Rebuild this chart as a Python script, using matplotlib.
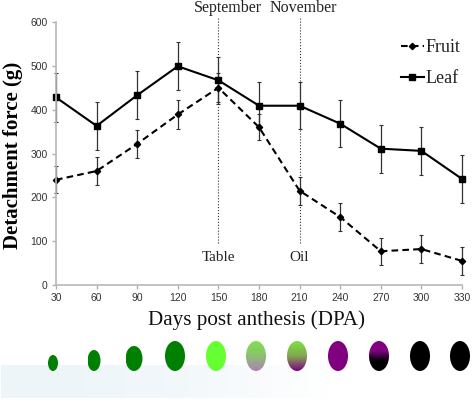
import numpy as np
import matplotlib
matplotlib.use('Agg')
import matplotlib.pyplot as plt
from matplotlib.colors import LinearSegmentedColormap
from matplotlib.patches import Ellipse

W, H = 472, 400

dpa = [30, 60, 90, 120, 150, 180, 210, 240, 270, 300, 330]
fruit = [240, 260, 322, 389, 450, 360, 215, 155, 77, 82, 55]
fruit_err = [31, 31, 32, 33, 33, 30, 32, 32, 31, 31, 32]
leaf = [428, 363, 433, 499, 467, 409, 409, 368, 311, 306, 242]
leaf_err = [55, 55, 55, 55, 54, 54, 54, 54, 55, 54, 55]
y_ticks = [0, 100, 200, 300, 400, 500, 600]

# fruit stages along the bottom strip: centre x, width, height in pixels
stage_x = [53, 94, 134, 175, 216, 256, 297, 338, 379, 420, 460]
stage_w = [10, 13, 17, 20, 20, 20, 20, 20, 20, 20, 20]
stage_h = [16, 21, 25, 30, 30, 30, 30, 30, 30, 30, 30]
stage_colors = [
    ['#008000'], ['#008000'], ['#008000'], ['#008000'],
    ['#66ff33'],
    ['#80e050', '#8cc070', '#b080b8'],
    ['#80e040', '#80a850', '#800080'],
    ['#800080'],
    ['#800080', '#800080', '#000000', '#000000'],
    ['#000000'], ['#000000'],
]

plt.rcParams['font.family'] = ['Liberation Serif', 'DejaVu Serif']
fig = plt.figure(figsize=(W / 100, H / 100), dpi=100, facecolor='white')

# pixel overlay for the strip under the chart
bg = fig.add_axes([0, 0, 1, 1], zorder=0)
bg.set_xlim(0, W)
bg.set_ylim(H, 0)
bg.axis('off')
fade = LinearSegmentedColormap.from_list('fade', ['#edf5f8', '#f1f7fa', '#ffffff'])
bg.imshow(np.linspace(0, 1, 256)[None, :], cmap=fade, aspect='auto',
          extent=(1, 330, 398, 365), zorder=1)
for cx, w, h, cols in zip(stage_x, stage_w, stage_h, stage_colors):
    cols = cols * 2 if len(cols) == 1 else cols
    cmap = LinearSegmentedColormap.from_list('stage', cols)
    bottom = 371
    im = bg.imshow(np.linspace(0, 1, 128)[:, None], cmap=cmap, aspect='auto',
                   extent=(cx - w / 2, cx + w / 2, bottom, bottom - h), zorder=2)
    im.set_clip_path(Ellipse((cx, bottom - h / 2), w, h, transform=bg.transData))
bg.set_xlim(0, W)
bg.set_ylim(H, 0)

ax = fig.add_axes([56 / W, (H - 285) / H, 406 / W, 263 / H], zorder=1)
ax.patch.set_alpha(0)

ax.plot([150, 150], [96, 611], color='#333333', lw=0.8, ls=':', clip_on=False)
ax.plot([210, 210], [96, 611], color='#333333', lw=0.8, ls=':', clip_on=False)

fruit_bars = ax.errorbar(dpa, fruit, yerr=fruit_err, color='black', ls=(0, (3.2, 2)), lw=1.5,
                         marker='D', ms=3.2, ecolor='#333333', elinewidth=0.9, capsize=1.6,
                         capthick=0.8, clip_on=False)
leaf_bars = ax.errorbar(dpa, leaf, yerr=leaf_err, color='black', ls='-', lw=1.5,
                        marker='s', ms=4.6, ecolor='#333333', elinewidth=0.9, capsize=1.6,
                        capthick=0.8, clip_on=False)

ax.set_xlim(30, 330)
ax.set_ylim(0, 600)
ax.set_xticks(dpa)
ax.set_yticks(y_ticks)
ax.tick_params(colors='#b0b0b0', labelcolor='#333333', length=3, width=1, pad=3)
for lab in ax.get_xticklabels() + ax.get_yticklabels():
    lab.set_fontfamily('Liberation Sans')
    lab.set_fontsize(7.5)
ax.spines['top'].set_visible(False)
ax.spines['right'].set_visible(False)
ax.spines['left'].set_color('#b8b8b8')
ax.spines['bottom'].set_color('#b8b8b8')
ax.spines['left'].set_linewidth(1.2)
ax.spines['bottom'].set_linewidth(1.2)

ax.text(150, 62, 'Table', ha='center', va='center', fontsize=11, color='#222222')
ax.text(210, 62, 'Oil', ha='center', va='center', fontsize=11, color='#222222')
fig.text(228 / W, 1 - 8 / H, 'September', ha='center', va='center', fontsize=11.5, color='#222222')
fig.text(303 / W, 1 - 8 / H, 'November', ha='center', va='center', fontsize=11.5, color='#222222')

fig.text(13 / W, 1 - 155 / H, 'Detachment force (g)', rotation=90, ha='center', va='center',
         fontsize=15, fontweight='bold')
fig.text(256 / W, 1 - 320 / H, 'Days post anthesis (DPA)', ha='center', va='center',
         fontsize=15.2, color='#111111')

ax.legend([fruit_bars.lines[0], leaf_bars.lines[0]], ['Fruit', 'Leaf'],
          loc='upper left', bbox_to_anchor=(345 / 406, 1 - 17 / 263), frameon=False,
          fontsize=13, handlelength=1.25, handletextpad=0.12, labelspacing=0.8,
          borderpad=0, borderaxespad=0, labelcolor='#222222')

fig.savefig('out.png', dpi=100)
